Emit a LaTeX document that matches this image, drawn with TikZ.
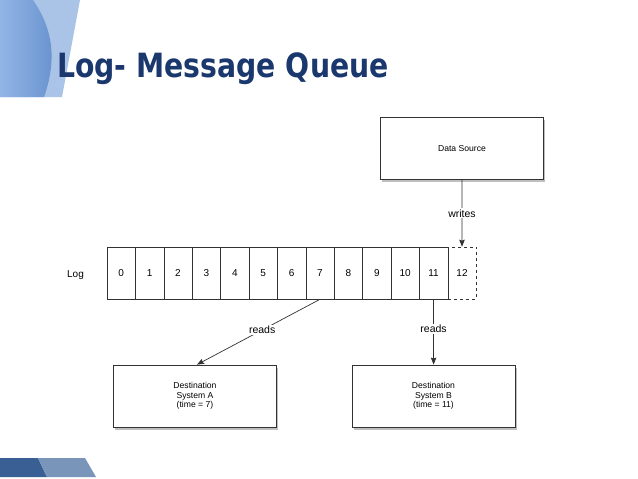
\documentclass[tikz,border=0pt]{standalone}
\usepackage{fontspec}
\setmainfont{Liberation Sans}
\newfontfamily\titlefont{DejaVu Sans}
\usetikzlibrary{shadows,arrows.meta}

\definecolor{titleblue}{RGB}{26,56,110}
\definecolor{barbluedark}{RGB}{58,95,149}
\definecolor{barbluelight}{RGB}{122,149,186}
\definecolor{topblue}{RGB}{110,156,222}
\definecolor{topbluelight}{RGB}{170,196,232}
\definecolor{linegray}{RGB}{50,50,50}

\begin{document}
\begin{tikzpicture}[x=1pt, y=-1pt,
  box/.style={draw=linegray, fill=white, line width=0.8pt, minimum width=163pt,
    minimum height=62pt, align=center, font=\fontsize{8.6}{9.3}\selectfont,
    drop shadow={opacity=0.5, shadow xshift=1.5pt, shadow yshift=-2.5pt}},
  cell/.style={draw=linegray, line width=0.6pt, minimum width=28.4pt,
    minimum height=52pt, inner sep=0pt, font=\fontsize{10}{11}\selectfont},
  lbl/.style={fill=white, inner sep=1pt, font=\fontsize{10.5}{12}\selectfont},
  flow/.style={draw=linegray, line width=0.7pt, -{Stealth[length=7pt,width=5.5pt,inset=1pt]}}]
  \useasboundingbox (0,0) rectangle (638,479);
  \fill[white] (0,0) rectangle (638,479);

  % Decor haut
  \fill[topbluelight] (0,0) -- (80,0) -- (62,97) -- (0,97) -- cycle;
  \shade[left color=topblue!75!white, right color=topblue!92!black]
    (0,0) -- (33,0) .. controls (48,22) and (60,52) .. (44,97) -- (0,97) -- cycle;

  % Titre
  \node[anchor=base west, inner sep=0pt, text=titleblue] (title) at (57,77)
    {\scalebox{1}[1.18]{\titlefont\bfseries\fontsize{28.3}{34}\selectfont Log- Message Queue}};

  % Decor bas
  \fill[barbluedark] (0,458) -- (38,458) -- (47,477) -- (0,477) -- cycle;
  \fill[barbluelight] (38,458) -- (85,458) -- (96,477) -- (47,477) -- cycle;

  % Source
  \node[box] (src) at (462,148.5) {Data Source};

  % Log
  \node[font=\fontsize{10}{11}\selectfont] (loglbl) at (75.5,275) {Log};
  \foreach \i in {0,...,11}
    \node[cell] (c\i) at ({121.2+28.4*\i},273) {\i};
  \node[cell, dashed] (c12) at ({121.2+28.4*12},273) {12};

  % Destinations
  \node[box] (dA) at (195,396) {Destination\\System A\\(time = 7)};
  \node[box] (dB) at (433.5,396) {Destination\\System B\\(time = 11)};

  % Fleches
  \draw[flow] (src) -- node[lbl] {writes} (c12);
  \draw[flow] (c7.south) -- node[lbl, pos=0.47] {reads} ([xshift=2pt]dA.north);
  \draw[flow] (c11.south) -- node[lbl, pos=0.45] {reads} (c11.south |- dB.north);
\end{tikzpicture}
\end{document}
